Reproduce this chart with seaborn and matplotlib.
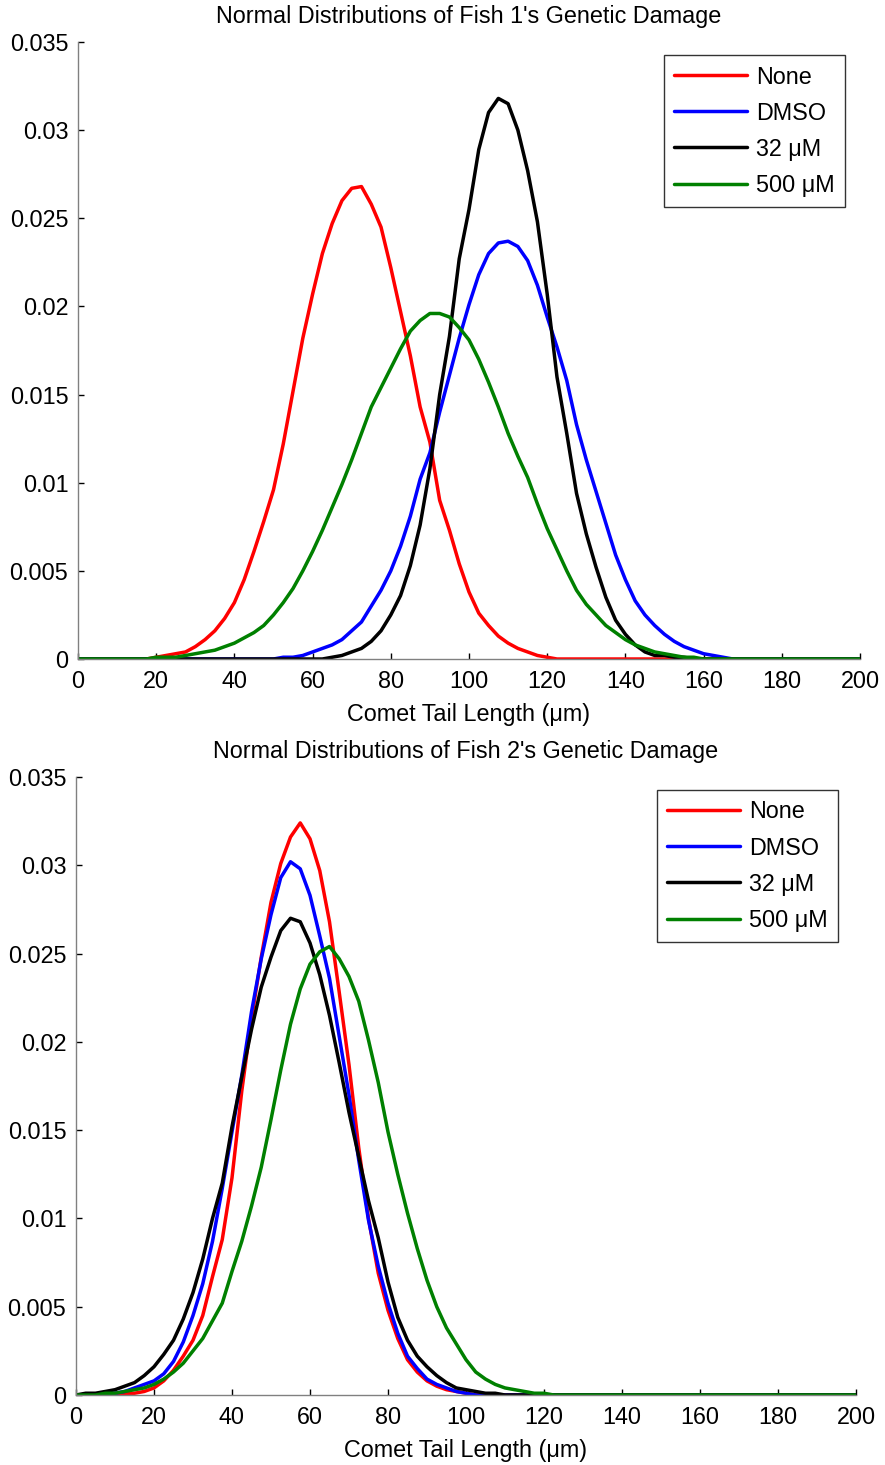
import numpy as np
import pandas as pd
import matplotlib
matplotlib.use("Agg")
import matplotlib.pyplot as plt
import seaborn as sns

# curves, one value every 2.5 um starting at *_start;
# outside the listed stretch the curve lies on zero (0 .. 200 um)
STEP = 2.5
treatments = ["None", "DMSO", "32 \u03bcM", "500 \u03bcM"]
colors = ["#ff0000", "#0000ff", "#000000", "#008000"]

# fish 1
fish1_none_start = 20
fish1_none = [0.0001, 0.0002, 0.0003, 0.0004, 0.0007, 0.0011, 0.0016, 0.0023, 0.0032, 0.0045,
              0.0061, 0.0078, 0.0096, 0.0122, 0.0152, 0.0182, 0.0207, 0.0230, 0.0247, 0.0260,
              0.0267, 0.0268, 0.0258, 0.0245, 0.0222, 0.0197, 0.0172, 0.0143, 0.0123, 0.0090,
              0.0073, 0.0054, 0.0038, 0.0026, 0.0019, 0.0013, 0.0009, 0.0006, 0.0004, 0.0002,
              0.0001]
fish1_dmso_start = 52.5
fish1_dmso = [0.0001, 0.0001, 0.0002, 0.0004, 0.0006, 0.0008, 0.0011, 0.0016, 0.0021, 0.0030,
              0.0039, 0.0050, 0.0064, 0.0081, 0.0102, 0.0117, 0.0140, 0.0161, 0.0182, 0.0201,
              0.0218, 0.0230, 0.0236, 0.0237, 0.0234, 0.0226, 0.0212, 0.0194, 0.0177, 0.0158,
              0.0133, 0.0113, 0.0095, 0.0077, 0.0059, 0.0045, 0.0033, 0.0025, 0.0019, 0.0014,
              0.0010, 0.0007, 0.0005, 0.0003, 0.0002, 0.0001]
fish1_32_start = 65
fish1_32 = [0.0001, 0.0002, 0.0004, 0.0006, 0.0010, 0.0016, 0.0025, 0.0036, 0.0053, 0.0076,
            0.0108, 0.0150, 0.0183, 0.0227, 0.0255, 0.0289, 0.0310, 0.0318, 0.0315, 0.0300,
            0.0277, 0.0248, 0.0207, 0.0160, 0.0128, 0.0094, 0.0071, 0.0052, 0.0035, 0.0022,
            0.0014, 0.0008, 0.0004, 0.0002, 0.0002, 0.0001, 0.0001]
fish1_500_start = 20
fish1_500 = [0.0001, 0.0001, 0.0001, 0.0002, 0.0003, 0.0004, 0.0005, 0.0007, 0.0009, 0.0012,
             0.0015, 0.0019, 0.0025, 0.0032, 0.0040, 0.0050, 0.0061, 0.0073, 0.0086, 0.0099,
             0.0113, 0.0128, 0.0143, 0.0154, 0.0165, 0.0176, 0.0186, 0.0192, 0.0196, 0.0196,
             0.0194, 0.0188, 0.0181, 0.0170, 0.0157, 0.0143, 0.0128, 0.0115, 0.0103, 0.0088,
             0.0074, 0.0062, 0.0050, 0.0039, 0.0031, 0.0025, 0.0019, 0.0015, 0.0011, 0.0008,
             0.0006, 0.0004, 0.0003, 0.0002, 0.0001, 0.0001]

# fish 2
fish2_none_start = 10
fish2_none = [0.0001, 0.0001, 0.0001, 0.0002, 0.0004, 0.0008, 0.0014, 0.0022, 0.0031, 0.0045,
              0.0067, 0.0088, 0.0123, 0.0172, 0.0213, 0.0248, 0.0279, 0.0301, 0.0316, 0.0324,
              0.0315, 0.0297, 0.0268, 0.0228, 0.0187, 0.0140, 0.0100, 0.0069, 0.0048, 0.0032,
              0.0020, 0.0013, 0.0008, 0.0005, 0.0003, 0.0002, 0.0001]
fish2_dmso_start = 7.5
fish2_dmso = [0.0001, 0.0001, 0.0002, 0.0004, 0.0006, 0.0008, 0.0012, 0.0019, 0.0030, 0.0045,
              0.0063, 0.0087, 0.0117, 0.0149, 0.0181, 0.0217, 0.0247, 0.0272, 0.0293, 0.0302,
              0.0298, 0.0283, 0.0260, 0.0236, 0.0203, 0.0170, 0.0133, 0.0099, 0.0073, 0.0052,
              0.0035, 0.0022, 0.0015, 0.0009, 0.0006, 0.0004, 0.0002, 0.0001]
fish2_32_start = 2.5
fish2_32 = [0.0001, 0.0001, 0.0002, 0.0003, 0.0005, 0.0007, 0.0011, 0.0016, 0.0023, 0.0031,
            0.0043, 0.0058, 0.0077, 0.0100, 0.0120, 0.0152, 0.0180, 0.0207, 0.0231, 0.0248,
            0.0263, 0.0270, 0.0268, 0.0256, 0.0238, 0.0215, 0.0188, 0.0160, 0.0135, 0.0110,
            0.0089, 0.0064, 0.0044, 0.0031, 0.0022, 0.0016, 0.0011, 0.0007, 0.0004, 0.0003,
            0.0002, 0.0001, 0.0001]
fish2_500_start = 7.5
fish2_500 = [0.0001, 0.0001, 0.0002, 0.0003, 0.0004, 0.0006, 0.0009, 0.0013, 0.0018, 0.0025,
             0.0032, 0.0042, 0.0052, 0.0070, 0.0087, 0.0107, 0.0129, 0.0156, 0.0184, 0.0210,
             0.0230, 0.0244, 0.0251, 0.0254, 0.0247, 0.0237, 0.0223, 0.0201, 0.0177, 0.0149,
             0.0125, 0.0103, 0.0083, 0.0065, 0.0050, 0.0038, 0.0029, 0.0020, 0.0013, 0.0009,
             0.0006, 0.0004, 0.0003, 0.0002, 0.0001, 0.0001]

x_ticks = list(range(0, 201, 20))
y_ticks = [0, 0.005, 0.01, 0.015, 0.02, 0.025, 0.03, 0.035]
y_tick_labels = ["0", "0.005", "0.01", "0.015", "0.02", "0.025", "0.03", "0.035"]
titles = ["Normal Distributions of Fish 1's Genetic Damage",
          "Normal Distributions of Fish 2's Genetic Damage"]
x_label = "Comet Tail Length (\u03bcm)"

grid = np.round(np.arange(0, 200 + STEP / 2, STEP), 2)


def full_curve(start, vals):
    # lay the read stretch onto the 0..200 grid, zero elsewhere
    y = np.zeros(len(grid))
    i0 = int(round(start / STEP))
    y[i0:i0 + len(vals)] = vals
    return y


def long_frame(series):
    parts = []
    for name, (start, vals) in zip(treatments, series):
        parts.append(pd.DataFrame({"length": grid, "density": full_curve(start, vals),
                                   "treatment": name}))
    return pd.concat(parts, ignore_index=True)


sns.set_style("ticks")
plt.rcParams["font.family"] = ["Liberation Sans", "DejaVu Sans"]
plt.rcParams["text.color"] = "black"
plt.rcParams["axes.labelcolor"] = "black"
plt.rcParams["xtick.color"] = "black"
plt.rcParams["ytick.color"] = "black"
FS = 16.8

fig = plt.figure(figsize=(8.85, 14.65), dpi=100)
ax1 = fig.add_axes([78 / 885, 1 - 659 / 1465, 782 / 885, 617 / 1465])
ax2 = fig.add_axes([76 / 885, 1 - 1395 / 1465, 780 / 885, 618 / 1465])

panels = [
    (ax1, [(fish1_none_start, fish1_none), (fish1_dmso_start, fish1_dmso),
           (fish1_32_start, fish1_32), (fish1_500_start, fish1_500)],
     (845 / 885, 1 - 55 / 1465)),
    (ax2, [(fish2_none_start, fish2_none), (fish2_dmso_start, fish2_dmso),
           (fish2_32_start, fish2_32), (fish2_500_start, fish2_500)],
     (838 / 885, 1 - 790 / 1465)),
]

for i, (ax, series, anchor) in enumerate(panels):
    df = long_frame(series)
    sns.lineplot(data=df, x="length", y="density", hue="treatment",
                 hue_order=treatments, palette=dict(zip(treatments, colors)),
                 linewidth=2.5, errorbar=None, sort=False, ax=ax)
    ax.set_xlim(0, 200)
    ax.set_ylim(0, 0.035)
    ax.set_xticks(x_ticks)
    ax.set_xticklabels([str(t) for t in x_ticks])
    ax.set_yticks(y_ticks)
    ax.set_yticklabels(y_tick_labels)
    ax.tick_params(direction="in", length=4, width=1, color="black",
                   labelsize=FS)
    ax.tick_params(axis="x", pad=8)
    ax.tick_params(axis="y", pad=7)
    for side in ["top", "right"]:
        ax.spines[side].set_visible(False)
    for side in ["left", "bottom"]:
        ax.spines[side].set_color("#808080")
        ax.spines[side].set_linewidth(1)
    ax.set_title(titles[i], fontsize=FS, pad=14)
    ax.set_xlabel(x_label, fontsize=FS, labelpad=7)
    ax.set_ylabel("")
    sns.move_legend(ax, "upper right", bbox_to_anchor=anchor,
                    bbox_transform=fig.transFigure, title=None, frameon=True,
                    fancybox=False, edgecolor="black", fontsize=FS,
                    handlelength=3.1, handletextpad=0.4, labelspacing=0.56,
                    borderpad=0.45, borderaxespad=0)
    leg = ax.get_legend()
    leg.get_frame().set_linewidth(1)
    for line in leg.get_lines():
        line.set_linewidth(2.5)

fig.savefig("out.png", dpi=100)
